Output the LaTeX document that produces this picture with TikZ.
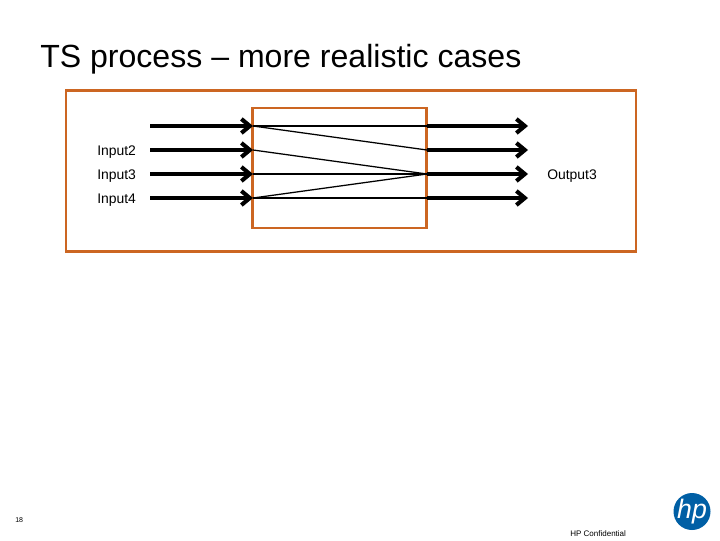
\documentclass[tikz,border=0pt]{standalone}
\usepackage{fontspec}
\setmainfont{Liberation Sans}
\usetikzlibrary{positioning}
\usetikzlibrary{arrows.meta}
\definecolor{boxorange}{RGB}{204,102,34}
\definecolor{logoblue}{RGB}{0,95,165}
\tikzset{
  label/.style={inner sep=0pt, anchor=west, font=\fontsize{9.9}{12}\selectfont},
  box/.style={draw=boxorange, line width=2.1pt},
  flow/.style={-{Straight Barb[length=6pt, width=10pt]}, line width=2.9pt},
  link/.style={line width=0.9pt}
}

\begin{document}
\begin{tikzpicture}[x=0.025cm, y=-0.025cm]
    \useasboundingbox (0,0) rectangle (720,540);

    % Boxes
    \node[box, minimum width=570*0.025cm, minimum height=161*0.025cm] (outer) at (351,171) {};
    \node[box, minimum width=174*0.025cm, minimum height=120*0.025cm] (inner) at (339.5,168) {};

    % Points
    \coordinate (i1) at (150,126);
    \coordinate (i2) at (150,150);
    \coordinate (i3) at (150,174);
    \coordinate (i4) at (150,198);
    \coordinate (a1) at (253,126);
    \coordinate (a2) at (253,150);
    \coordinate (a3) at (253,174);
    \coordinate (a4) at (253,198);
    \coordinate (b1) at (427,126);
    \coordinate (b2) at (427,150);
    \coordinate (b3) at (427,174);
    \coordinate (b4) at (427,198);
    \coordinate (o1) at (528,126);
    \coordinate (o2) at (528,150);
    \coordinate (o3) at (528,174);
    \coordinate (o4) at (528,198);

    % Text
    \node[inner sep=0pt, anchor=west, font=\fontsize{22.8}{26}\selectfont] (title) at (40,59.5) {TS process – more realistic cases};
    \node[label] (input2) at (97,152) {Input2};
    \node[label] (input3) at (97,176) {Input3};
    \node[label] (input4) at (97,200) {Input4};
    \node[label] (output3) at (547,176) {Output3};
    \node[label, font=\fontsize{5}{6}\selectfont] (page) at (15,520) {18};
    \node[label, font=\fontsize{5.7}{7}\selectfont] (conf) at (570,533.5) {HP Confidential};

    % Logo
    \node[circle, fill=logoblue, minimum size=37*0.025cm, inner sep=0pt] (logo) at (692,511.5) {};
    \node[inner sep=0pt, text=white, font=\fontsize{19}{19}\selectfont\itshape] (hp) at (logo) {hp};

    % Arrows
    \draw[flow] (i1) -- (a1);
    \draw[flow] (i2) -- (a2);
    \draw[flow] (i3) -- (a3);
    \draw[flow] (i4) -- (a4);
    \draw[flow] (b1) -- (o1);
    \draw[flow] (b2) -- (o2);
    \draw[flow] (b3) -- (o3);
    \draw[flow] (b4) -- (o4);

    % Links
    \draw[link] (a1) -- (b1);
    \draw[link] (a1) -- (b2);
    \draw[link] (a2) -- (b3);
    \draw[link] (a3) -- (b3);
    \draw[link] (a4) -- (b3);
    \draw[link] (a4) -- (b4);
\end{tikzpicture}
\end{document}
